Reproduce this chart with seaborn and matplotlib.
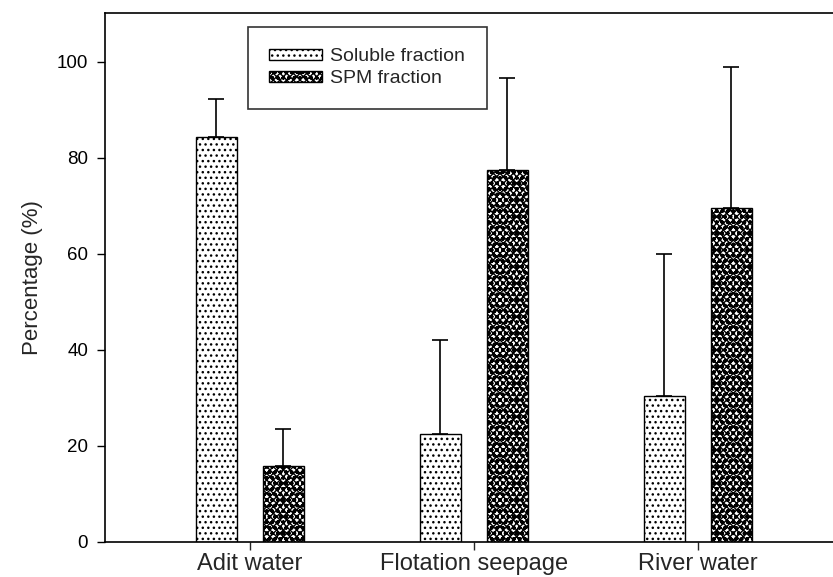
import matplotlib
matplotlib.use("Agg")
import matplotlib.pyplot as plt
import seaborn as sns
import pandas as pd
import numpy as np

categories = ["Adit water", "Flotation seepage", "River water"]
fractions = ["Soluble fraction", "SPM fraction"]
soluble = [84.3, 22.5, 30.5]
spm = [15.8, 77.5, 69.5]
soluble_err = [8.0, 19.5, 29.5]
spm_err = [7.7, 19.2, 29.4]

sns.set_style("ticks")
plt.rcParams['font.family'] = ['Liberation Sans', 'DejaVu Sans']
plt.rcParams['hatch.linewidth'] = 1.0

df = pd.DataFrame({
    "cat": categories * 2,
    "frac": [fractions[0]] * 3 + [fractions[1]] * 3,
    "val": soluble + spm,
})

fig = plt.figure(figsize=(8.33, 5.77), dpi=100)
ax = fig.add_axes([105 / 833, 1 - 542 / 577, 736 / 833, (542 - 13) / 577])

sns.barplot(data=df, x="cat", y="val", hue="frac", order=categories, hue_order=fractions,
            palette=["white", "white"], width=0.6, gap=0.39, errorbar=None,
            edgecolor="black", linewidth=1.0, ax=ax)

SOL_H = "..."
SPM_H = "XXXXXooo"
errs = soluble_err + spm_err
hatches = [SOL_H] * 3 + [SPM_H] * 3
for p, e, h in zip(ax.patches[:6], errs, hatches):
    p.set_hatch(h)
    cx = p.get_x() + p.get_width() / 2
    top = p.get_height()
    ax.errorbar([cx], [top], yerr=[[0], [e]], fmt="none", ecolor="black",
                elinewidth=1.2, capsize=6, capthick=1.2, zorder=1)

leg = ax.legend(loc="upper left", bbox_to_anchor=(0.194, 0.9735), borderaxespad=0,
                frameon=True, fancybox=False, edgecolor="black", fontsize=14,
                handlelength=2.7, handleheight=0.5, borderpad=1.1, labelspacing=0.25,
                handletextpad=0.45)
leg.get_frame().set_linewidth(1.2)
for hp, h in zip(leg.legend_handles, [SOL_H, SPM_H]):
    hp.set_hatch(h)
    hp.set_edgecolor("black")

ax.set_xlim(-0.647, 2.64)
ax.set_ylim(0, 110.2)
ax.set_yticks([0, 20, 40, 60, 80, 100])
ax.tick_params(axis="y", labelsize=13.5, length=5.7, width=1, colors="black", pad=6.5)
ax.tick_params(axis="x", length=5.7, width=1, pad=2.5)
for lbl in ax.get_xticklabels():
    lbl.set_fontfamily(['Liberation Sans Narrow', 'Liberation Sans', 'DejaVu Sans'])
    lbl.set_fontsize(17)
ax.set_xlabel("")
ax.set_ylabel("Percentage (%)", fontsize=16, labelpad=10)
ax.spines["right"].set_visible(False)
for s in ["left", "top", "bottom"]:
    ax.spines[s].set_linewidth(1.2)
    ax.spines[s].set_color("black")

fig.savefig("out.png", dpi=100)
